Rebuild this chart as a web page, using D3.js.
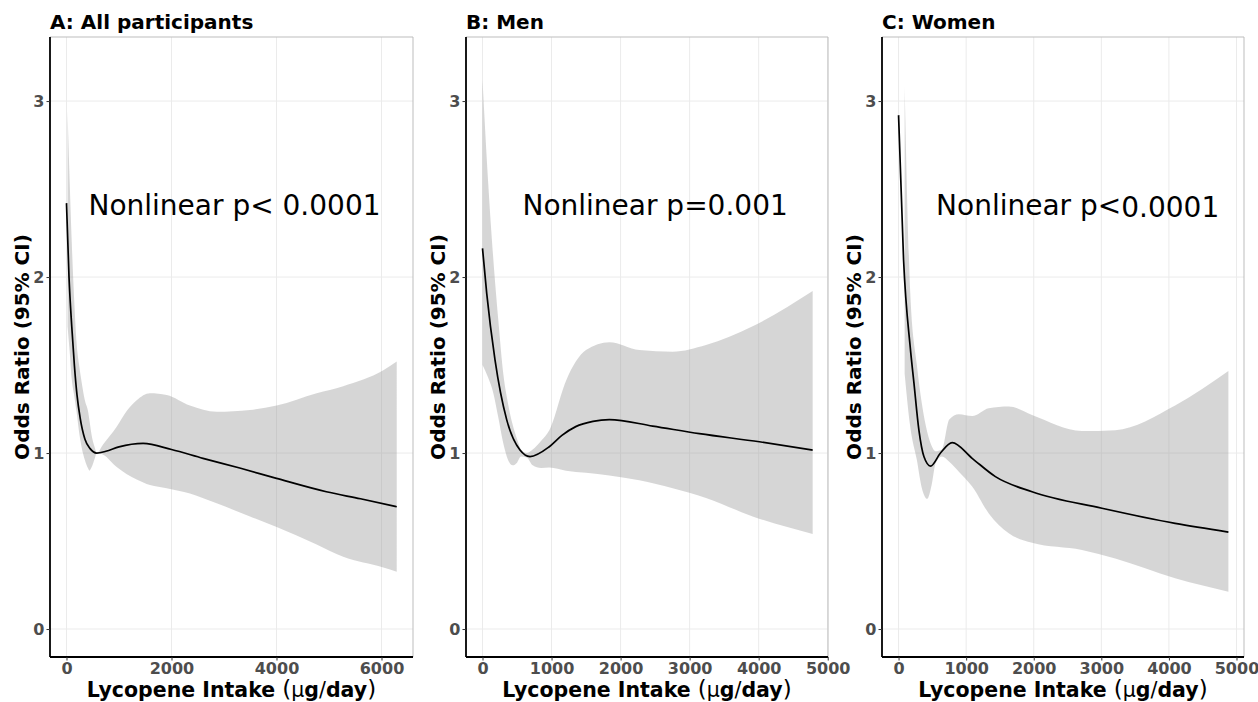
<!DOCTYPE html>
<html>
<head>
<meta charset="utf-8">
<script src="https://cdn.jsdelivr.net/npm/d3@7"></script>
<style>
  body { margin: 0; background: #fff; }
  svg text { font-family: "DejaVu Sans", sans-serif; }
</style>
</head>
<body>
<script>
var W = 1258, H = 702;

// A: all participants
var aX = [0, 48, 100, 150, 200, 260, 350, 450, 575, 750, 1000, 1460, 2000, 2600, 3300, 4000, 4950, 5600, 6290];
var aOR = [2.42, 2.0, 1.72, 1.50, 1.33, 1.20, 1.08, 1.025, 1.0, 1.01, 1.035, 1.055, 1.02, 0.97, 0.915, 0.856, 0.78, 0.74, 0.695];
var aBandX = [20, 60, 100, 150, 194, 240, 290, 350, 415, 435, 480, 540, 575, 700, 956, 1150, 1337, 1590, 1908, 2352, 2860, 3495, 4003, 4765, 5270, 6035, 6290];
var aHi = [2.94, 2.55, 2.20, 1.85, 1.62, 1.50, 1.40, 1.30, 1.23, 1.19, 1.10, 1.03, 1.0, 1.05, 1.15, 1.24, 1.30, 1.34, 1.33, 1.27, 1.235, 1.245, 1.27, 1.34, 1.38, 1.47, 1.52];
var aLo = [1.72, 1.58, 1.42, 1.32, 1.23, 1.12, 1.03, 0.96, 0.91, 0.90, 0.92, 0.97, 1.0, 0.99, 0.92, 0.88, 0.85, 0.818, 0.80, 0.77, 0.714, 0.64, 0.58, 0.48, 0.41, 0.35, 0.326];

// B: men
var bX = [0, 61, 181, 350, 543, 688, 968, 1150, 1350, 1600, 1837, 2465, 3141, 4010, 4782];
var bOR = [2.163, 1.907, 1.53, 1.19, 1.017, 0.98, 1.036, 1.10, 1.15, 1.18, 1.19, 1.153, 1.11, 1.064, 1.017];
var bBandX = [0, 80, 157, 230, 301, 370, 437, 500, 558, 640, 727, 850, 968, 1209, 1499, 1837, 2271, 2755, 3237, 3913, 4782];
var bHi = [3.12, 2.55, 2.10, 1.75, 1.45, 1.28, 1.16, 1.08, 1.02, 1.0, 1.02, 1.07, 1.13, 1.41, 1.585, 1.63, 1.585, 1.576, 1.614, 1.72, 1.92];
var bLo = [1.50, 1.43, 1.34, 1.20, 1.055, 0.96, 0.93, 0.945, 0.98, 0.975, 0.93, 0.915, 0.918, 0.90, 0.888, 0.872, 0.845, 0.80, 0.745, 0.64, 0.54];

// C: women
var cX = [0, 74, 173, 227, 301, 375, 473, 620, 793, 1089, 1433, 1975, 3009, 4092, 4880];
var cOR = [2.92, 2.10, 1.60, 1.40, 1.13, 0.98, 0.926, 1.0, 1.059, 0.97, 0.866, 0.78, 0.686, 0.60, 0.551];
var cBandX = [90, 173, 271, 345, 424, 490, 547, 640, 750, 892, 1089, 1335, 1630, 1975, 2714, 3206, 4092, 4880];
var cHi = [3.08, 1.91, 1.50, 1.28, 1.12, 1.04, 1.01, 1.02, 1.19, 1.22, 1.21, 1.255, 1.265, 1.216, 1.125, 1.13, 1.27, 1.466];
var cLo = [1.45, 1.15, 0.96, 0.80, 0.74, 0.82, 0.94, 0.98, 0.95, 0.894, 0.81, 0.657, 0.544, 0.49, 0.449, 0.40, 0.288, 0.212];

var yTicks = [0, 1, 2, 3];
var ticksA = [0, 2000, 4000, 6000];
var ticksBC = [0, 1000, 2000, 3000, 4000, 5000];

var panels = [
  { title: 'A: All participants', left: 50, right: 413, dom: [-314, 6600], ticks: ticksA,
    x: aX, y: aOR, bx: aBandX, hi: aHi, lo: aLo, note: ['Nonlinear p< ', '0.0001'], noteX: 3200 },
  { title: 'B: Men', left: 466, right: 828, dom: [-239, 5004], ticks: ticksBC,
    x: bX, y: bOR, bx: bBandX, hi: bHi, lo: bLo, note: ['Nonlinear p=0.001', ''], noteX: 2500 },
  { title: 'C: Women', left: 882, right: 1244, dom: [-245, 5111], ticks: ticksBC,
    x: cX, y: cOR, bx: cBandX, hi: cHi, lo: cLo, note: ['Nonlinear p<', '0.0001'], noteX: 2650 }
];

var yTop = 37, yBot = 657;

var svg = d3.select('body').append('svg')
  .attr('width', W)
  .attr('height', H);

var y = d3.scaleLinear().domain([-0.159, 3.364]).range([yBot, yTop]);

panels.forEach(function(p) {
  var x = d3.scaleLinear().domain(p.dom).range([p.left, p.right]);
  var g = svg.append('g');

  // grid
  g.selectAll('line.gx').data(p.ticks).enter().append('line')
    .attr('x1', d => x(d)).attr('x2', d => x(d))
    .attr('y1', yTop).attr('y2', yBot)
    .attr('stroke', '#ebebeb').attr('stroke-width', 1);
  g.selectAll('line.gy').data(yTicks).enter().append('line')
    .attr('x1', p.left).attr('x2', p.right)
    .attr('y1', d => y(d)).attr('y2', d => y(d))
    .attr('stroke', '#ebebeb').attr('stroke-width', 1);

  // confidence band
  var band = p.bx.map((v, i) => ({ x: v, hi: p.hi[i], lo: p.lo[i] }));
  g.append('path')
    .datum(band)
    .attr('fill', '#999999')
    .attr('fill-opacity', 0.4)
    .attr('d', d3.area().curve(d3.curveMonotoneX)
      .x(d => x(d.x)).y0(d => y(d.lo)).y1(d => y(d.hi)));

  // OR line
  var pts = p.x.map((v, i) => ({ x: v, y: p.y[i] }));
  g.append('path')
    .datum(pts)
    .attr('fill', 'none')
    .attr('stroke', '#000')
    .attr('stroke-width', 1.7)
    .attr('d', d3.line().curve(d3.curveMonotoneX).x(d => x(d.x)).y(d => y(d.y)));

  // annotation
  var t = g.append('text')
    .attr('x', x(p.noteX)).attr('y', y(2.35))
    .attr('text-anchor', 'middle')
    .attr('font-size', 28)
    .attr('fill', '#000');
  t.append('tspan').text(p.note[0]);
  if (p.note[1]) t.append('tspan').attr('dy', p.note[0].endsWith(' ') ? 0 : 2).text(p.note[1]);

  // panel border (top/right)
  g.append('path')
    .attr('d', 'M' + p.left + ',' + yTop + 'H' + p.right + 'V' + yBot)
    .attr('fill', 'none').attr('stroke', '#bdbdbd').attr('stroke-width', 1);

  // axes
  var xa = g.append('g').attr('transform', 'translate(0,' + yBot + ')')
    .call(d3.axisBottom(x).tickValues(p.ticks).tickFormat(d3.format('d'))
      .tickSize(3.5).tickPadding(2).tickSizeOuter(0));
  var ya = g.append('g').attr('transform', 'translate(' + p.left + ',0)')
    .call(d3.axisLeft(y).tickValues(yTicks).tickFormat(d3.format('d'))
      .tickSize(3.5).tickPadding(2).tickSizeOuter(0));
  [xa, ya].forEach(function(a) {
    a.select('.domain').attr('stroke', '#000').attr('stroke-width', 1.8);
    a.selectAll('.tick line').attr('stroke', '#333');
    a.selectAll('.tick text')
      .attr('fill', '#4d4d4d')
      .attr('font-size', 16)
      .attr('font-weight', 'bold')
      .attr('font-family', 'DejaVu Sans, sans-serif');
  });
  xa.select('.domain').attr('d', 'M' + p.left + ',0H' + p.right);
  ya.select('.domain').attr('d', 'M0,' + yBot + 'V' + yTop);

  // title
  g.append('text')
    .attr('x', p.left).attr('y', 29)
    .attr('font-size', 20).attr('font-weight', 'bold')
    .text(p.title);

  // x title
  var xt = g.append('text')
    .attr('x', (p.left + p.right) / 2).attr('y', 697)
    .attr('text-anchor', 'middle')
    .attr('font-size', 20.5).attr('font-weight', 'bold');
  xt.append('tspan').text('Lycopene Intake ');
  xt.append('tspan').attr('font-weight', 'normal').attr('font-size', 23).text('(');
  xt.append('tspan').attr('font-weight', 'normal').text('μ');
  xt.append('tspan').text('g');
  xt.append('tspan').attr('font-weight', 'normal').text('/');
  xt.append('tspan').text('day');
  xt.append('tspan').attr('font-weight', 'normal').attr('font-size', 23).text(')');

  // y title
  g.append('text')
    .attr('transform', 'translate(' + (p.left - 28) + ',' + ((yTop + yBot) / 2) + ') rotate(-90)')
    .attr('text-anchor', 'middle')
    .attr('dy', '0.35em')
    .attr('font-size', 20).attr('font-weight', 'bold')
    .text('Odds Ratio (95% CI)');
});
</script>
</body>
</html>
